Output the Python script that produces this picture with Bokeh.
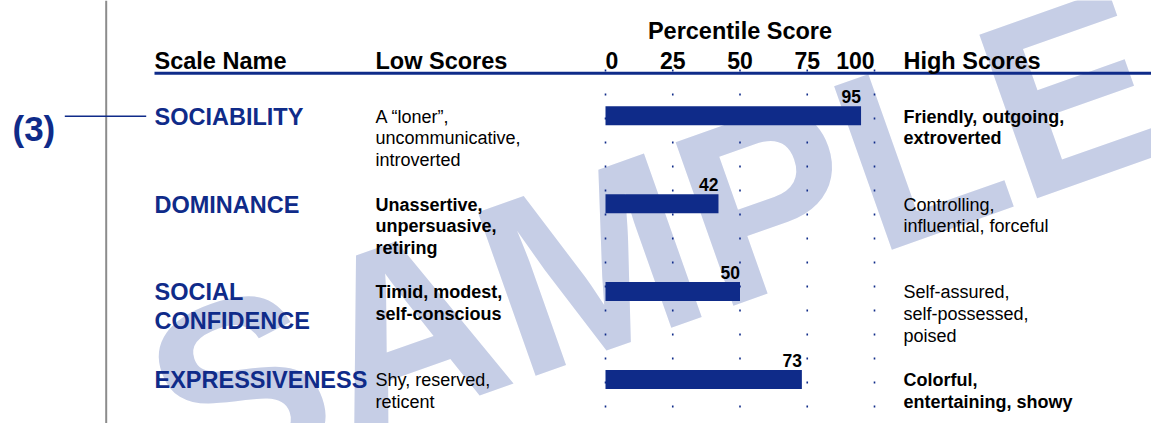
from bokeh.plotting import figure
from bokeh.models import Range1d
from bokeh.core.properties import value
from bokeh.embed import file_html
from bokeh.resources import INLINE

# ---------------- data ----------------
scales = ["SOCIABILITY", "DOMINANCE", "SOCIAL\nCONFIDENCE", "EXPRESSIVENESS"]
scores = [95, 42, 50, 73]
low_text = ["A \u201cloner\u201d,\nuncommunicative,\nintroverted",
            "Unassertive,\nunpersuasive,\nretiring",
            "Timid, modest,\nself-conscious",
            "Shy, reserved,\nreticent"]
low_bold = [False, True, True, False]
high_text = ["Friendly, outgoing,\nextroverted",
             "Controlling,\ninfluential, forceful",
             "Self-assured,\nself-possessed,\npoised",
             "Colorful,\nentertaining, showy"]
high_bold = [True, False, False, True]
ticks = [0, 25, 50, 75, 100]
tick_labels = ["0", "25", "50", "75", "100"]
tick_align = ["left", "center", "center", "center", "right"]
headers = ["Scale Name", "Low Scores", "High Scores"]
axis_title = "Percentile Score"
callout = "(3)"
watermark = "SAMPLE"

# ---------------- layout ----------------
W, H = 1151, 423
X0, X100 = 605.0, 874.0
SX = (X100 - X0) / 100.0
FONT = value("Liberation Sans")
BLUE = "#0F2B89"
ROW0, ROWSTEP = 115.3, 87.9


def X(px):
    return (px - X0) / SX


p = figure(width=W, height=H, x_range=Range1d(X(0), X(W)),
           y_range=Range1d(H, 0), output_backend="svg",
           toolbar_location=None, x_axis_type=None, y_axis_type=None,
           min_border=0, outline_line_color=None)
p.grid.visible = False
p.background_fill_color = "white"
p.border_fill_color = "white"

centers = [ROW0 + ROWSTEP * i for i in range(len(scores))]

# watermark
p.text(x=[X(160)], y=[415], text=[watermark], angle=0.34,
       text_font=FONT, text_font_size="252px", text_font_style="bold",
       text_color="#C6CEE6", text_align="left", text_baseline="alphabetic")

# vertical gray rule and callout
p.segment(x0=[X(105.7)], y0=[0], x1=[X(105.7)], y1=[H],
          line_color="#8C8C8C", line_width=2)
p.segment(x0=[X(64.3)], y0=[115.7], x1=[X(145.7)], y1=[115.7],
          line_color=BLUE, line_width=1.5)
p.text(x=[X(12)], y=[127.5], text=[callout], text_font=FONT,
       text_font_size="35px", text_font_style="bold", text_color=BLUE,
       text_align="left", text_baseline="alphabetic")

# header rule
p.segment(x0=[X(154)], y0=[72.7], x1=[X(W)], y1=[72.7],
          line_color=BLUE, line_width=3)

# dotted grid
p.segment(x0=ticks, y0=[69] * len(ticks), x1=ticks, y1=[408] * len(ticks),
          line_color=BLUE, line_width=1.6, line_dash="2 22")

# bars
p.hbar(y=centers, left=0, right=scores, height=19, fill_color=BLUE,
       line_color=None)
p.text(x=scores, y=[c - 19 for c in centers], text=[str(s) for s in scores],
       text_font=FONT, text_font_size="17.5px", text_font_style="bold",
       text_color="black", text_align="right", text_baseline="alphabetic")

# headers
p.text(x=[X(154), X(375), X(903)], y=[60] * 3, text=headers, text_font=FONT,
       text_font_size="23.5px", text_font_style="bold", text_color="black",
       text_align="left", text_baseline="alphabetic")
p.text(x=[50], y=[30.5], text=[axis_title], text_font=FONT,
       text_font_size="23.5px", text_font_style="bold", text_color="black",
       text_align="center", text_baseline="alphabetic")
for t, lab, al in zip(ticks, tick_labels, tick_align):
    p.text(x=[t], y=[60], text=[lab], text_font=FONT, text_font_size="23px",
           text_font_style="bold", text_color="black", text_align=al,
           text_baseline="alphabetic")


def lines_block(texts, bolds, xpx, size, step, color):
    for c, txt, b in zip(centers, texts, bolds):
        parts = txt.split("\n")
        p.text(x=[X(xpx)] * len(parts), y=[c + 0.8 + step * k for k in range(len(parts))],
               text=parts, text_font=FONT, text_font_size=size,
               text_font_style="bold" if b else "normal", text_color=color,
               text_align="left", text_baseline="alphabetic")


lines_block(scales, [True] * 4, 154, "23.5px", 28.6, BLUE)
lines_block(low_text, low_bold, 375, "18px", 21.7, "black")
lines_block(high_text, high_bold, 903, "18px", 21.7, "black")

open("out.html", "w").write(file_html(p, INLINE))
